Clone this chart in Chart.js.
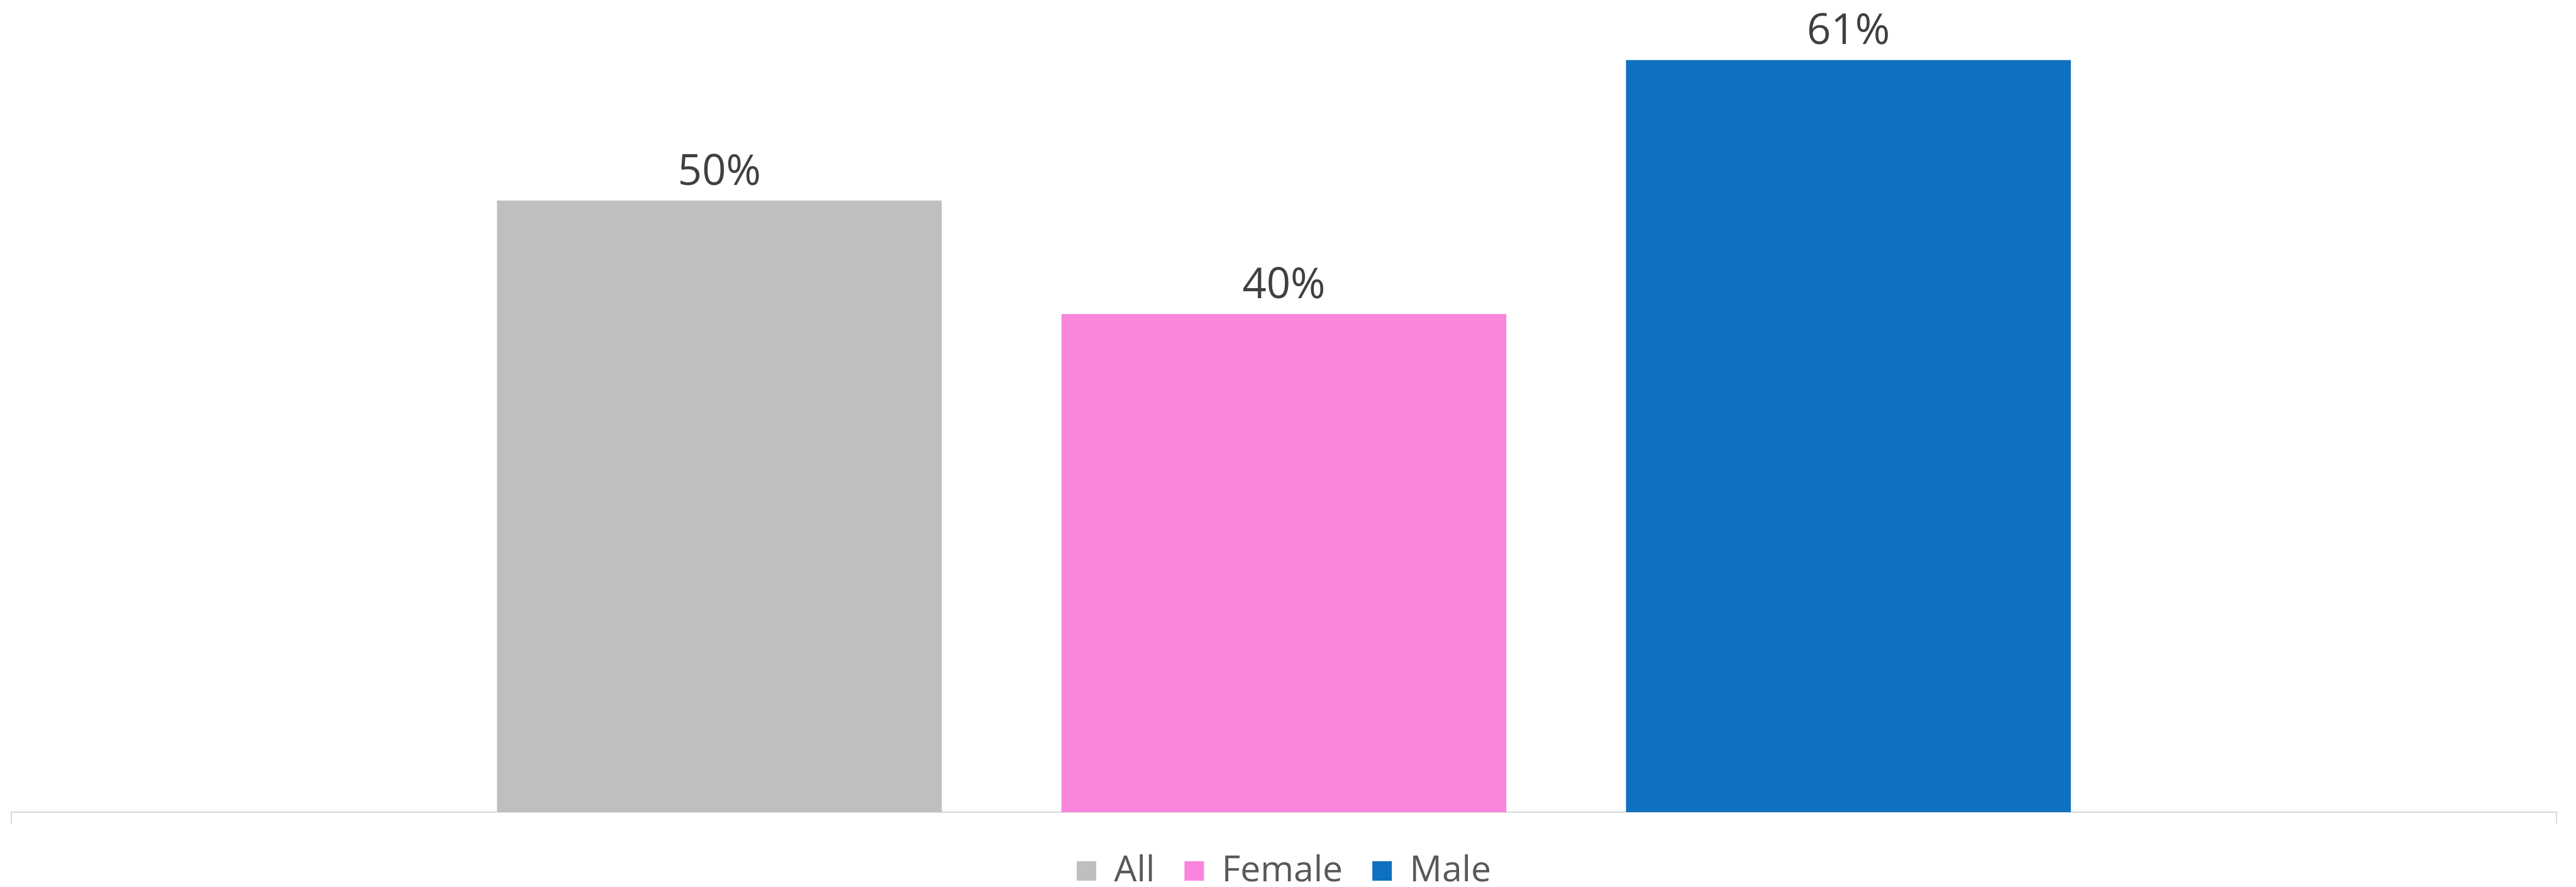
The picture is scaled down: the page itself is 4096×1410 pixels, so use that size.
<!DOCTYPE html>
<html>
<head>
<meta charset="utf-8">
<title>All / Female / Male</title>
<script src="https://cdn.jsdelivr.net/npm/chart.js@4/dist/chart.umd.min.js"></script>
<style>
  html, body { margin: 0; padding: 0; background: #ffffff; }
  #contenedor { width: 4096px; height: 1410px; }
</style>
</head>
<body>
<div id="contenedor">
  <canvas id="graficoSexo" width="4096" height="1410"></canvas>
</div>
<script>
// Datos del gráfico
const categorias = [""];
const series = ["All", "Female", "Male"];
const valores = [49.6, 40.4, 61.0];
const colores = ["#BFBFBF", "#F985DC", "#0E70C0"];

// Etiqueta de porcentaje encima de cada barra
const etiquetasValor = {
    id: "etiquetasValor",
    afterDatasetsDraw(chart) {
        const ctx = chart.ctx;
        ctx.save();
        ctx.font = "67px 'Open Sans'";
        ctx.fillStyle = "#404040";
        ctx.textAlign = "center";
        ctx.textBaseline = "alphabetic";
        chart.data.datasets.forEach((ds, i) => {
            chart.getDatasetMeta(i).data.forEach((barra, j) => {
                ctx.fillText(Math.round(ds.data[j]) + "%", barra.x, barra.y - 25);
            });
        });
        ctx.restore();
    }
};

function dibujarGrafico() {
    Chart.defaults.font.family = "'Open Sans'";

    new Chart(document.getElementById("graficoSexo"), {
        type: "bar",
        data: {
            labels: categorias,
            datasets: series.map((nombre, i) => ({
                label: nombre,
                data: [valores[i]],
                backgroundColor: colores[i],
                borderWidth: 0,
                barPercentage: 0.788,
                categoryPercentage: 0.6654
            }))
        },
        options: {
            responsive: false,
            animation: false,
            layout: { padding: { top: 17, left: 18, right: 31, bottom: 0 } },
            plugins: {
                tooltip: { enabled: false },
                legend: {
                    position: "bottom",
                    maxHeight: 101,
                    labels: {
                        boxWidth: 31,
                        boxHeight: 31,
                        padding: 47,
                        color: "#595959",
                        font: { size: 57 }
                    }
                }
            },
            scales: {
                x: {
                    grid: {
                        display: true,
                        drawOnChartArea: false,
                        drawTicks: true,
                        tickLength: 18,
                        color: "#D9D9D9",
                        lineWidth: 2,
                        offset: true
                    },
                    border: { display: true, color: "#D9D9D9", width: 2 },
                    ticks: { display: false }
                },
                y: {
                    display: false,
                    min: 0,
                    max: 65
                }
            }
        },
        plugins: [etiquetasValor]
    });
}

document.addEventListener("DOMContentLoaded", dibujarGrafico);
</script>
</body>
</html>
